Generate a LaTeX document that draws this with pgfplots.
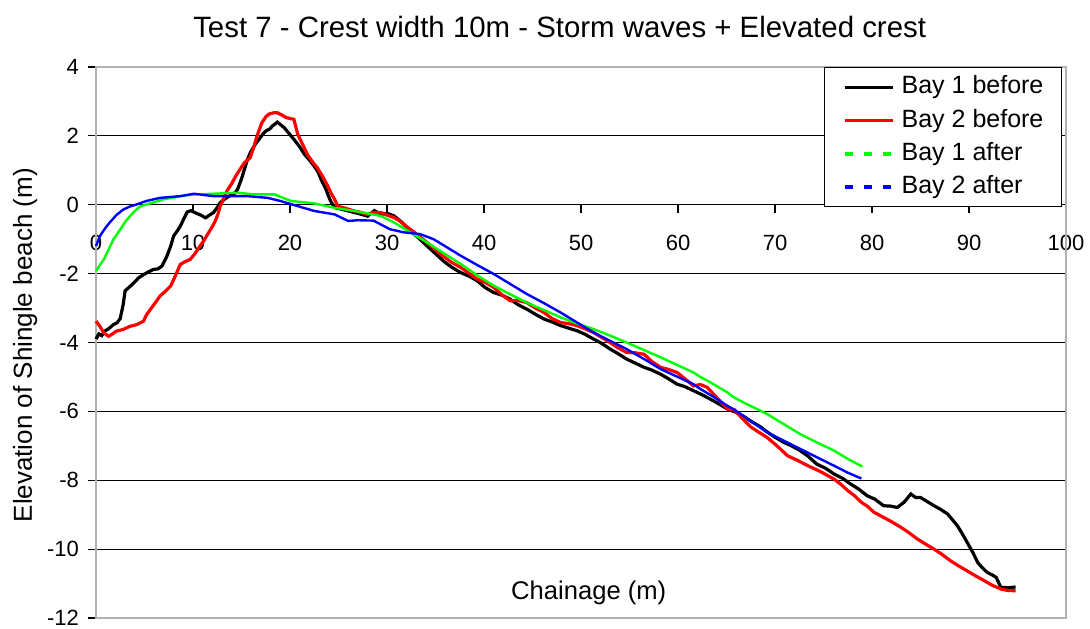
\documentclass[border=0pt]{standalone}
\usepackage{fontspec}
\setmainfont{Liberation Sans}
\usepackage{pgfplots}
\pgfplotsset{compat=1.18}
\definecolor{xlgreen}{HTML}{00FF00}
\definecolor{xlblue}{HTML}{0000FF}
\definecolor{xlred}{HTML}{FF0000}
\begin{document}
\begin{tikzpicture}
\path[use as bounding box] (-48pt,-5pt) rectangle (497pt,309pt);
\begin{axis}[
  at={(0,0)}, anchor=south west,
  width=485pt, height=275.5pt, scale only axis,
  xmin=0, xmax=100, ymin=-12, ymax=4,
  axis x line=middle, axis y line=left,
  axis line style={-, black, line width=0.6pt},
  hide obscured x ticks=false,
  xtick={0,10,...,100}, ytick={-12,-10,...,4},
  minor tick num=0,
  tick align=outside, major tick length=4pt,
  tick style={black, line width=0.6pt},
  xticklabel={\pgfmathparse{int(round(\tick))}\pgfmathresult},
  yticklabel={\pgfmathparse{int(round(\tick))}\pgfmathresult},
  ticklabel style={font=\fontsize{11}{12}\selectfont},
  xticklabel style={yshift=-7.5pt},
  yticklabel style={xshift=-1pt},
  ymajorgrids, grid style={black, line width=0.6pt},
  clip=false,
  legend style={at={(1,1)}, anchor=north east, xshift=-2pt,
    draw=black, line width=0.6pt, fill=white,
    font=\fontsize{12.5}{14}\selectfont,
    inner xsep=9pt, inner ysep=3.5pt, row sep=4.2pt, column sep=3.5pt,
    nodes={inner sep=0pt, text height=9.5pt, text depth=3pt}},
  legend cell align=left,
  legend image code/.code={\draw[#1] (0pt,0pt) -- (24pt,0pt);},
]
\draw[gray!60, line width=0.8pt] (rel axis cs:0,0) rectangle (rel axis cs:1,1);

% Bay 1 before
\addplot[black, line width=1.6pt] coordinates {
(0,-3.9) (0.3,-3.75) (0.6,-3.8) (0.9,-3.67) (1.3,-3.6) (1.8,-3.48) (2.2,-3.42) (2.5,-3.3) (2.8,-2.9) (3.0,-2.5)
(3.4,-2.4) (3.9,-2.27) (4.4,-2.12) (4.9,-2.03) (5.4,-1.95) (5.9,-1.88) (6.4,-1.86) (6.8,-1.78) (7.3,-1.5) (7.7,-1.2)
(8.0,-0.91) (8.4,-0.75) (8.7,-0.62) (9.1,-0.38) (9.4,-0.21) (9.8,-0.17) (10.2,-0.23) (10.8,-0.3) (11.3,-0.38) (11.7,-0.3)
(12.1,-0.23) (12.5,-0.08) (12.8,0.06) (13.2,0.15) (13.7,0.25) (14.2,0.3) (14.6,0.45) (15.0,0.75) (15.3,1.03) (15.6,1.3)
(15.9,1.51) (16.4,1.75) (16.8,1.9) (17.2,2.05) (17.5,2.14) (17.9,2.2) (18.2,2.29) (18.7,2.4) (19.0,2.33) (19.4,2.24)
(19.9,2.07) (20.4,1.9) (21.0,1.68) (21.5,1.46) (22.0,1.3) (22.5,1.12) (22.9,0.95) (23.2,0.74) (23.7,0.45) (24.1,0.16)
(24.4,0.0) (24.7,-0.09) (25.3,-0.13) (26.0,-0.18) (27.0,-0.25) (28.0,-0.33) (28.7,-0.17) (29.4,-0.28) (30.0,-0.25) (30.7,-0.32)
(31.5,-0.5) (32.4,-0.76) (33.2,-0.95) (34.1,-1.19) (35.0,-1.42) (35.8,-1.63) (36.7,-1.82) (37.6,-1.97) (38.5,-2.08) (39.3,-2.21)
(40.1,-2.4) (41.0,-2.55) (41.8,-2.62) (42.7,-2.74) (43.5,-2.9) (44.4,-3.03) (45.3,-3.18) (46.2,-3.32) (47.0,-3.4) (47.9,-3.51)
(48.7,-3.58) (49.6,-3.66) (50.4,-3.76) (51.3,-3.9) (52.1,-4.02) (53.0,-4.19) (53.8,-4.32) (54.7,-4.48) (55.6,-4.6) (56.5,-4.72)
(57.3,-4.8) (58.2,-4.92) (59.0,-5.05) (59.9,-5.21) (60.7,-5.28) (61.6,-5.4) (62.5,-5.52) (63.3,-5.64) (64.2,-5.78) (65.1,-5.93)
(66.0,-6.03) (66.8,-6.15) (67.6,-6.3) (68.5,-6.45) (69.2,-6.6) (70.0,-6.75) (70.9,-6.9) (71.7,-7.0) (72.6,-7.14) (73.4,-7.3)
(74.3,-7.53) (75.2,-7.65) (76.1,-7.82) (77.0,-7.95) (77.8,-8.11) (78.6,-8.25) (79.5,-8.45) (80.3,-8.55) (81.2,-8.74) (81.9,-8.75)
(82.6,-8.79) (83.3,-8.64) (84.0,-8.4) (84.5,-8.5) (85.0,-8.5) (85.7,-8.62) (86.4,-8.74) (87.1,-8.85) (87.8,-8.98) (88.3,-9.15)
(88.8,-9.32) (89.3,-9.55) (89.8,-9.8) (90.4,-10.1) (90.9,-10.39) (91.4,-10.55) (91.9,-10.68) (92.4,-10.75) (92.8,-10.82) (93.1,-11.0)
(93.3,-11.11) (94.0,-11.12) (94.8,-11.1)
};
\addlegendentry{Bay 1 before}

% Bay 2 before
\addplot[xlred, line width=1.6pt] coordinates {
(0,-3.38) (0.4,-3.53) (0.8,-3.72) (1.3,-3.82) (1.7,-3.75) (2.1,-3.67) (2.8,-3.62) (3.5,-3.53) (4.2,-3.48) (4.9,-3.38)
(5.2,-3.2) (5.6,-3.04) (6.1,-2.85) (6.6,-2.65) (7.2,-2.5) (7.7,-2.36) (8.2,-2.05) (8.7,-1.73) (9.2,-1.65) (9.7,-1.59)
(10.2,-1.42) (10.6,-1.25) (11.1,-1.05) (11.5,-0.86) (11.9,-0.68) (12.3,-0.47) (12.6,-0.25) (12.8,-0.04) (13.2,0.2) (13.5,0.4)
(14.0,0.62) (14.4,0.83) (14.9,1.05) (15.3,1.22) (15.9,1.37) (16.3,1.7) (16.6,2.0) (17.1,2.38) (17.5,2.55) (17.8,2.63)
(18.3,2.67) (18.7,2.67) (19.2,2.6) (19.6,2.53) (20.1,2.5) (20.4,2.48) (20.8,2.04) (21.3,1.75) (21.8,1.46) (22.3,1.25)
(22.8,1.08) (23.3,0.85) (23.9,0.54) (24.3,0.3) (24.6,0.16) (24.9,-0.04) (25.7,-0.1) (26.6,-0.18) (27.3,-0.22) (28.0,-0.28)
(28.6,-0.22) (29.4,-0.23) (30.0,-0.3) (30.7,-0.37) (31.2,-0.45) (31.7,-0.56) (32.9,-0.82) (34.1,-1.09) (35.0,-1.3) (35.8,-1.5)
(36.7,-1.68) (37.6,-1.82) (38.5,-2.0) (39.3,-2.16) (40.1,-2.25) (41.0,-2.4) (41.8,-2.6) (42.7,-2.79) (43.5,-2.78) (44.4,-2.84)
(45.3,-3.0) (46.2,-3.13) (47.0,-3.3) (47.9,-3.42) (48.7,-3.45) (49.6,-3.51) (50.4,-3.6) (51.3,-3.71) (52.1,-3.85) (53.0,-4.0)
(53.8,-4.15) (54.7,-4.29) (55.6,-4.3) (56.5,-4.34) (57.3,-4.55) (58.2,-4.72) (59.0,-4.78) (59.9,-4.87) (60.7,-5.05) (61.6,-5.26)
(62.3,-5.22) (63.0,-5.3) (64.0,-5.6) (65.1,-5.93) (65.8,-5.95) (66.6,-6.2) (67.5,-6.45) (68.3,-6.6) (69.2,-6.76) (70.2,-7.0)
(71.3,-7.29) (72.3,-7.42) (73.4,-7.58) (74.7,-7.75) (76.1,-7.97) (76.8,-8.12) (77.5,-8.3) (78.2,-8.45) (78.9,-8.64) (79.5,-8.75)
(80.2,-8.93) (81.0,-9.05) (82.0,-9.2) (83.0,-9.37) (83.8,-9.52) (84.7,-9.71) (85.5,-9.85) (86.4,-10.0) (87.2,-10.15) (88.1,-10.34)
(89.0,-10.5) (89.8,-10.63) (90.7,-10.78) (91.6,-10.92) (92.4,-11.05) (93.3,-11.16) (94.0,-11.2) (94.8,-11.21)
};
\addlegendentry{Bay 2 before}

% Bay 1 after
\addplot[xlgreen, line width=1.2pt,
  legend image code/.code={\draw[xlgreen, line width=2pt, dash pattern=on 4.2pt off 5.3pt] (0pt,0pt) -- (24pt,0pt);}] coordinates {
(0,-1.93) (0.4,-1.75) (0.8,-1.59) (1.3,-1.3) (1.8,-1.0) (2.5,-0.72) (3.0,-0.5) (3.5,-0.33) (4.0,-0.18) (4.6,-0.04)
(5.6,0.04) (6.3,0.1) (7.0,0.16) (8.7,0.25) (10.1,0.3) (12.1,0.32) (14.6,0.35) (16.3,0.3) (18.4,0.3) (19.3,0.2)
(20.1,0.11) (22.5,0.04) (24.6,-0.09) (26.6,-0.18) (28.0,-0.25) (29.4,-0.33) (30.7,-0.51) (32.4,-0.8) (34.1,-1.09) (35.8,-1.4)
(37.6,-1.72) (39.3,-2.05) (41.0,-2.35) (42.7,-2.6) (44.4,-2.84) (46.2,-3.06) (47.9,-3.27) (49.6,-3.45) (51.3,-3.61) (53.0,-3.8)
(54.7,-4.0) (56.5,-4.22) (58.2,-4.43) (59.9,-4.65) (61.6,-4.87) (62.3,-5.0) (63.3,-5.15) (65.1,-5.45) (65.8,-5.6) (66.8,-5.75)
(68.5,-5.98) (69.2,-6.08) (70.9,-6.37) (72.6,-6.66) (74.3,-6.9) (76.1,-7.14) (77.5,-7.38) (79.0,-7.6)
};
\addlegendentry{Bay 1 after}

% Bay 2 after
\addplot[xlblue, line width=1.2pt,
  legend image code/.code={\draw[xlblue, line width=2pt, dash pattern=on 4.2pt off 5.3pt] (0pt,0pt) -- (24pt,0pt);}] coordinates {
(0,-1.2) (0.4,-0.91) (0.9,-0.7) (1.4,-0.52) (2.1,-0.3) (2.8,-0.14) (3.5,-0.05) (4.2,0.01) (5.2,0.11) (6.6,0.2)
(8.7,0.25) (10.1,0.32) (12.1,0.25) (13.9,0.25) (15.6,0.25) (17.7,0.2) (19.0,0.11) (20.8,-0.04) (22.5,-0.18) (24.6,-0.28)
(26.0,-0.47) (27.0,-0.45) (28.6,-0.46) (30.3,-0.71) (31.7,-0.8) (33.4,-0.85) (34.8,-1.0) (36.2,-1.24) (37.6,-1.48) (39.3,-1.75)
(41.0,-2.01) (42.7,-2.3) (44.4,-2.59) (46.2,-2.86) (47.9,-3.13) (49.6,-3.42) (51.3,-3.71) (53.0,-3.95) (54.7,-4.19) (56.5,-4.48)
(58.2,-4.77) (59.9,-4.99) (61.6,-5.21) (62.3,-5.35) (63.5,-5.55) (65.1,-5.84) (65.8,-5.95) (67.5,-6.28) (69.2,-6.61) (70.9,-6.85)
(72.6,-7.09) (74.3,-7.33) (76.1,-7.58) (77.5,-7.78) (78.9,-7.95)
};
\addlegendentry{Bay 2 after}

\node[anchor=base, font=\fontsize{14.7}{17}\selectfont] at ([yshift=14.85pt]rel axis cs:0.478,1) {Test 7 - Crest width 10m - Storm waves + Elevated crest};
\node[anchor=base, font=\fontsize{12.8}{15}\selectfont] at ([yshift=9.5pt]rel axis cs:0.508,0) {Chainage (m)};
\node[rotate=90, anchor=base, font=\fontsize{13}{15}\selectfont] at ([xshift=-32pt]rel axis cs:0,0.495) {Elevation of Shingle beach (m)};
\end{axis}
\end{tikzpicture}
\end{document}
